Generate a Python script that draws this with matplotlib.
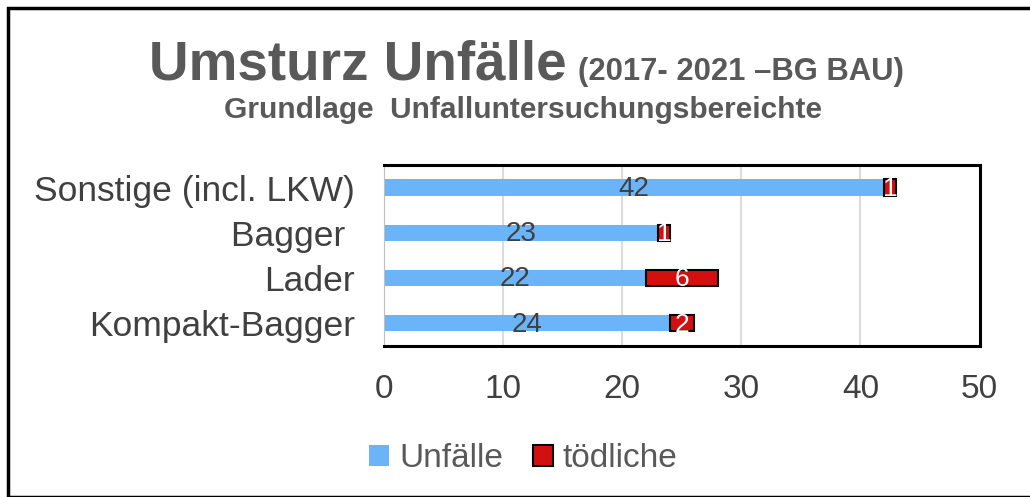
import matplotlib.pyplot as plt
from matplotlib.patches import Rectangle

plt.rcParams['font.family'] = ['Liberation Sans', 'DejaVu Sans']

kategorien = ['Kompakt-Bagger', 'Lader', 'Bagger ', 'Sonstige (incl. LKW)']
unfaelle = [24, 22, 23, 42]
toedliche = [2, 6, 1, 1]

fig = plt.figure(figsize=(10.3, 4.97), dpi=100)
ax = fig.add_axes([0.373, 0.304, 0.578, 0.364])

y = range(len(kategorien))
b1 = ax.barh(y, unfaelle, height=0.36, color='#6cb4f8', label='Unfälle')
b2 = ax.barh(y, toedliche, left=unfaelle, height=0.36, color='#d40f0f',
             edgecolor='black', linewidth=1.5, label='tödliche')

for i in y:
    ax.text(unfaelle[i] / 2, i - 0.03, str(unfaelle[i]), ha='center', va='center',
            fontsize=20, color='#404040')
    ax.text(unfaelle[i] + toedliche[i] / 2, i - 0.03, str(toedliche[i]), ha='center',
            va='center', fontsize=19, color='white')

ax.set_xlim(0, 50)
ax.set_ylim(-0.5, 3.5)
ax.set_xticks([0, 10, 20, 30, 40, 50])
ax.set_yticks(list(y))
ax.set_yticklabels(kategorien)
ax.tick_params(axis='both', length=0, labelsize=24, labelcolor='#404040')
ax.tick_params(axis='y', labelsize=25.5, pad=21)
ax.tick_params(axis='x', pad=20)
ax.xaxis.grid(True, color='#dcdcdc', linewidth=1.5)
ax.set_axisbelow(True)
for s in ['top', 'right', 'bottom']:
    ax.spines[s].set_linewidth(2.2)
    ax.spines[s].set_color('black')
ax.spines['left'].set_linewidth(0.8)
ax.spines['left'].set_color('#bfbfbf')

fig.text(0.145, 0.869, 'Umsturz Unfälle', fontsize=39.5, fontweight='bold',
         color='#595959', ha='left', va='center')
fig.text(0.561, 0.855, '(2017- 2021 –BG BAU)', fontsize=22.3, fontweight='bold',
         color='#595959', ha='left', va='center')
fig.text(0.508, 0.778, 'Grundlage  Unfalluntersuchungsbereichte', fontsize=21.5,
         fontweight='bold', color='#595959', ha='center', va='center')

fig.legend(handles=[b1, b2], loc='center', bbox_to_anchor=(0.508, 0.077), ncol=2,
           frameon=False, fontsize=24, labelcolor='#595959', handlelength=0.6,
           handleheight=0.6, handletextpad=0.3, columnspacing=0.9)

fig.patches.append(Rectangle((0.008, 0.0), 1.0, 0.984, transform=fig.transFigure,
                             fill=False, edgecolor='black', linewidth=2.5))

fig.savefig('out.png', dpi=100)
